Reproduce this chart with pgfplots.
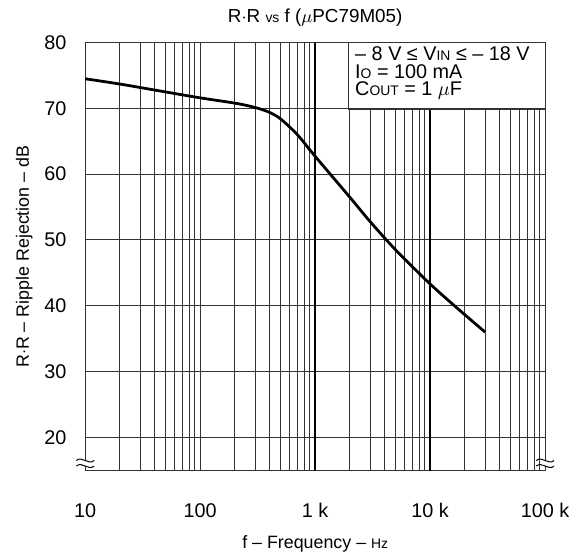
\documentclass[border=0pt]{standalone}
\usepackage{fontspec}
\setmainfont{Liberation Sans}
\usepackage{pgfplots}
\pgfplotsset{compat=1.18}
\newcommand\sm[1]{{\fontsize{7}{8}\selectfont #1}}

\begin{document}
\begin{tikzpicture}
\begin{axis}[
  at={(0,0)}, anchor=south west,
  scale only axis, width=232pt, height=216pt,
  xmode=log, log basis x=10,
  xmin=10, xmax=100000, ymin=14.9, ymax=80,
  xtick={10,100,1000,10000,100000},
  xticklabels={10,100,1 k,10 k,100 k},
  minor xtick={20,30,40,50,60,70,80,90,200,300,400,500,600,700,800,900,
    2000,3000,4000,5000,6000,7000,8000,9000,20000,30000,40000,50000,60000,70000,80000,90000},
  ytick={20,30,40,50,60,70,80},
  major tick length=0pt, minor tick length=0pt,
  xmajorgrids, xminorgrids, ymajorgrids,
  grid style={black!80, line width=0.5pt},
  minor grid style={black!80, line width=0.5pt},
  axis line style={black!80, line width=0.6pt},
  /pgf/number format/assume math mode=true,
  tick label style={font=\fontsize{10}{11}\selectfont},
  yticklabel style={xshift=-6pt},
  xticklabel style={yshift=-13pt},
  xlabel={f -- Frequency -- \sm{Hz}},
  ylabel={R$\cdot$R -- Ripple Rejection -- dB},
  label style={font=\fontsize{9}{10}\selectfont},
  xlabel style={yshift=-2pt},
  ylabel style={yshift=-1pt},
  clip=false,
]
\draw[black, line width=0.9pt] (axis cs:1000,14.9) -- (axis cs:1000,80);
\draw[black, line width=0.9pt] (axis cs:10000,14.9) -- (axis cs:10000,80);
\addplot[black, line width=1.4pt, smooth, tension=0.5] coordinates {
  (10,74.5) (20,73.7) (50,72.5) (100,71.6) (200,70.8) (260,70.4)
  (320,70.0) (400,69.4) (500,68.4) (700,66.0) (1000,62.7)
  (2000,56.5) (3000,52.8) (5000,48.5) (10000,43.3) (17000,39.7) (30000,36.0)
};
\fill[white] (axis cs:1963,69.9) rectangle (axis cs:100000,80);
\draw[black!80, line width=0.6pt] (axis cs:1963,80) -- (axis cs:1963,69.9) -- (axis cs:100000,69.9);
\draw[black!80, line width=0.6pt] (axis cs:1963,80) -- (axis cs:100000,80) -- (axis cs:100000,69.9);
\node[anchor=north west, align=left, inner sep=0pt, font=\fontsize{10}{8.9}\selectfont]
  at ([xshift=3pt,yshift=-1.8pt]axis cs:1963,80)
  {-- 8 V ≤ V\sm{IN} ≤ -- 18 V\\ I\sm{O} = 100 mA\\ C\sm{OUT} = 1 $\mu$F};
\node[font=\fontsize{9.5}{10}\selectfont, anchor=base] at ([yshift=10pt]rel axis cs:0.5,1)
  {R$\cdot$R \sm{vs} f ($\mu$PC79M05)};
\end{axis}
% axis break marks
\foreach \xx in {0pt,232pt}{
  \fill[white] ([xshift=\xx]-1pt,2.4pt) rectangle ([xshift=\xx]1pt,5.2pt);
  \draw[black, line width=0.5pt] ([xshift=\xx]-4.5pt,5.2pt) .. controls ([xshift=\xx]-1.5pt,7.8pt) and ([xshift=\xx]1.5pt,2.6pt) .. ([xshift=\xx]4.5pt,5.2pt);
  \draw[black, line width=0.5pt] ([xshift=\xx]-4.5pt,2.4pt) .. controls ([xshift=\xx]-1.5pt,5pt) and ([xshift=\xx]1.5pt,-0.2pt) .. ([xshift=\xx]4.5pt,2.4pt);
}
\path[use as bounding box] (-43pt,-40.5pt) rectangle (245pt,237.5pt);
\end{tikzpicture}
\end{document}
